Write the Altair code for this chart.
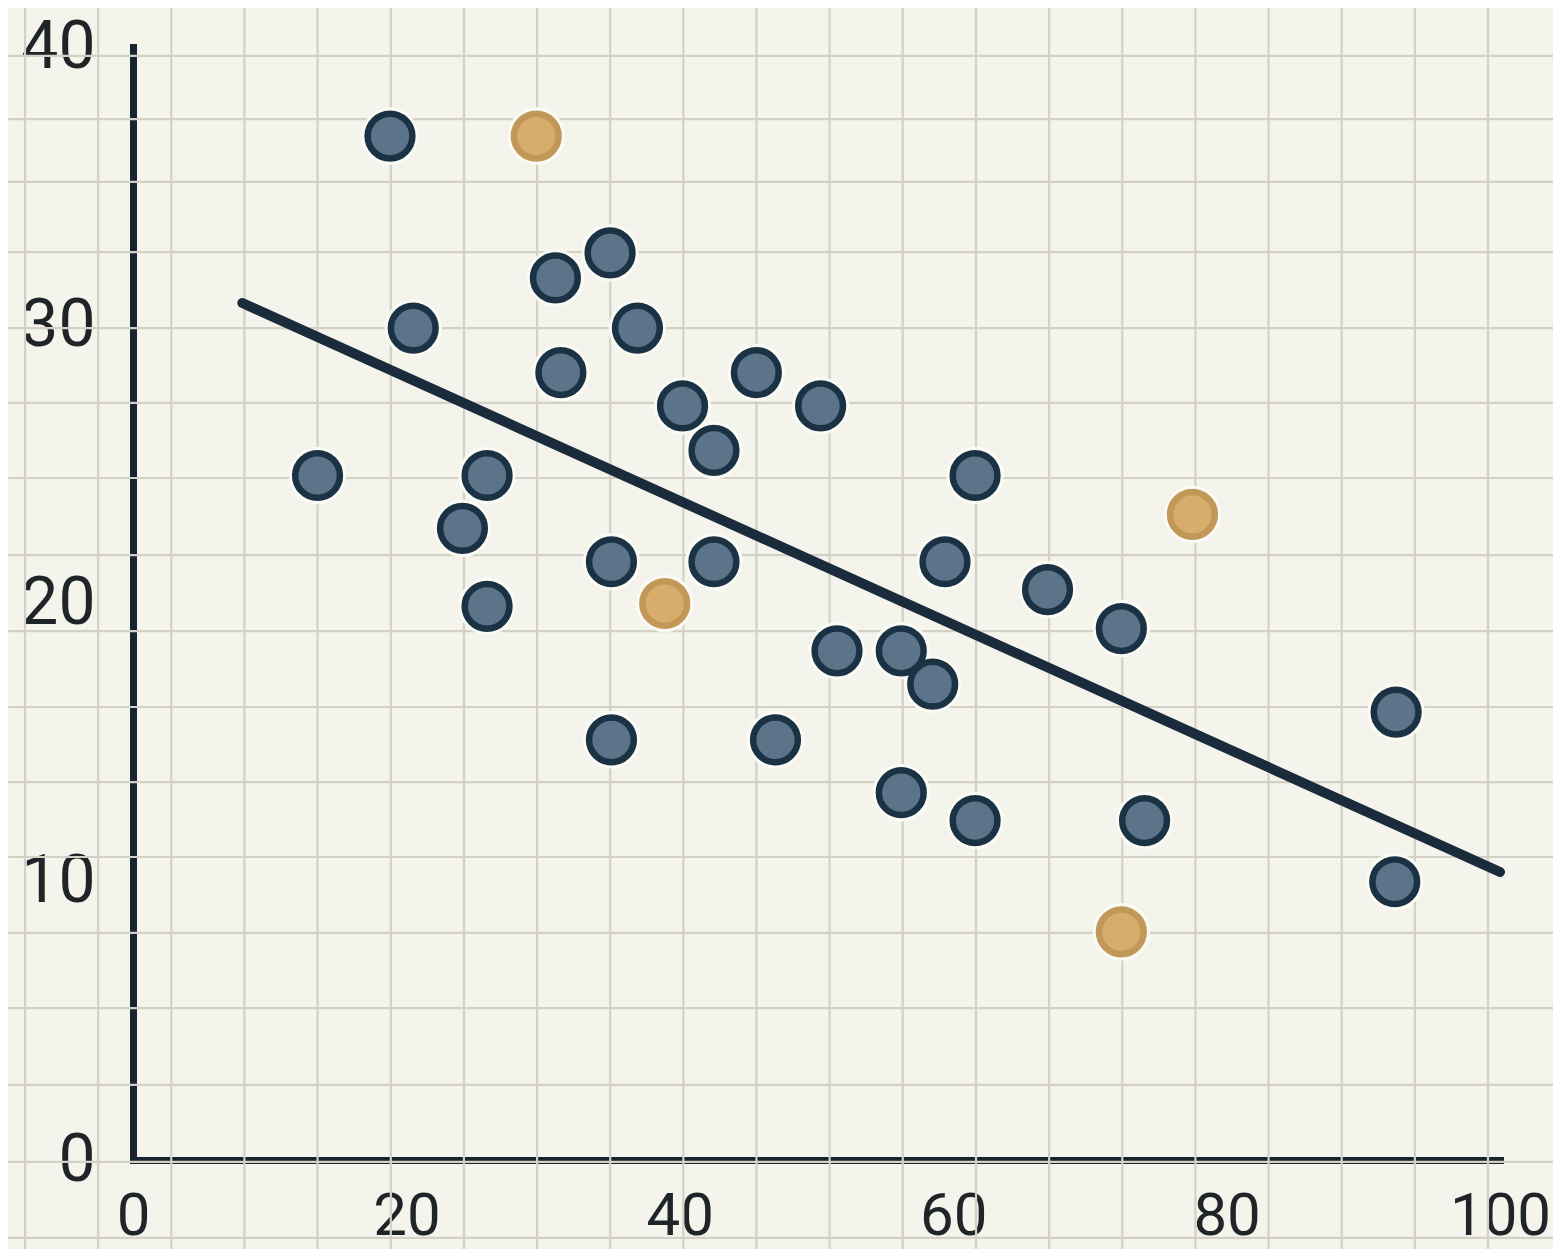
import altair as alt
import pandas as pd

# ---- data ----
blue_x = [18.8, 13.5, 20.5, 30.9, 34.9, 31.3, 36.9, 25.9, 24.1, 25.9,
          35.0, 35.0, 40.2, 42.5, 45.6, 50.3, 42.5, 47.0, 51.5, 56.2,
          58.5, 56.2, 61.6, 59.4, 61.6, 66.9, 72.3, 74.0, 92.4, 92.3]
blue_y = [36.8, 24.6, 29.9, 31.7, 32.6, 28.3, 29.9, 24.6, 22.7, 19.9,
          21.5, 15.1, 27.1, 25.5, 28.3, 27.1, 21.5, 15.1, 18.3, 18.3,
          17.1, 13.2, 24.6, 21.5, 12.2, 20.5, 19.1, 12.2, 16.1, 10.0]
orange_x = [29.5, 38.9, 77.5, 72.3]
orange_y = [36.8, 20.0, 23.2, 8.2]

trend_x = [8.0, 100.0]
trend_y = [30.8, 10.35]

x_ticks = [0, 20, 40, 60, 80, 100]
y_ticks = [0, 10, 20, 30, 40]

# graph-paper background lines (data units)
paper_x = [-7.90, -2.55, 2.80, 8.15, 13.50, 18.86, 24.21, 29.56, 34.91, 40.26,
           45.61, 50.96, 56.31, 61.67, 67.02, 72.37, 77.72, 83.07, 88.42, 93.77,
           99.12, 104.47]
paper_y = [39.68, 37.41, 35.15, 32.63, 29.90, 27.21, 24.51, 21.74, 19.01, 16.28,
           13.58, 10.89, 8.16, 5.46, 2.70, -0.07, -2.80]

# ---- tables ----
points = pd.DataFrame({
    "x": blue_x + orange_x,
    "y": blue_y + orange_y,
    "group": ["main"] * len(blue_x) + ["highlight"] * len(orange_x),
})
trend = pd.DataFrame({"x": trend_x, "y": trend_y})
gx = pd.DataFrame({"gx": paper_x})
gy = pd.DataFrame({"gy": paper_y})

xs = alt.Scale(domain=[0, 100], nice=False, zero=False)
ys = alt.Scale(domain=[0, 40], nice=False, zero=False)

GRID = "#d3d1c6"
INK = "#18252f"

X_AX = alt.Axis(
    values=x_ticks, grid=False, ticks=False, tickSize=0, title=None,
    domain=True, domainColor=INK, domainWidth=7, domainCap="square",
    labelFont="Roboto", labelFontSize=60, labelColor="#1f2428",
    labelPadding=27, labelFlush=False, labelOverlap=False, labelBound=False,
)
Y_AX = alt.Axis(
    values=y_ticks, grid=False, ticks=False, tickSize=0, title=None,
    domain=True, domainColor=INK, domainWidth=7, domainCap="square",
    labelFont="Roboto", labelFontSize=66, labelColor="#1f2428",
    labelPadding=38, labelFlush=False, labelOverlap=False, labelBound=False,
)

vgrid = alt.Chart(gx).mark_rule(color=GRID, strokeWidth=2.2).encode(
    x=alt.X("gx:Q", scale=xs, axis=X_AX),
    y=alt.datum(-3.4, scale=ys, axis=Y_AX),
    y2=alt.datum(41.6),
)
hgrid = alt.Chart(gy).mark_rule(color=GRID, strokeWidth=2.2).encode(
    y=alt.Y("gy:Q", scale=ys, axis=Y_AX),
    x=alt.datum(-9.3, scale=xs, axis=X_AX),
    x2=alt.datum(104.5),
)

line = alt.Chart(trend).mark_line(color="#1a2c3b", strokeWidth=10, strokeCap="round").encode(
    x=alt.X("x:Q", scale=xs, axis=X_AX),
    y=alt.Y("y:Q", scale=ys, axis=Y_AX),
)

halo = alt.Chart(points).mark_point(
    shape="circle", filled=True, size=3300, color="#fbfbf6", opacity=0.95
).encode(
    x=alt.X("x:Q", scale=xs, axis=X_AX),
    y=alt.Y("y:Q", scale=ys, axis=Y_AX),
)

color_scale = alt.Scale(domain=["main", "highlight"], range=["#5b7489", "#d8ac6a"])
stroke_scale = alt.Scale(domain=["main", "highlight"], range=["#1b3245", "#c19858"])

dots = alt.Chart(points).mark_point(
    shape="circle", filled=True, size=2000, strokeWidth=6.5, opacity=1
).encode(
    x=alt.X("x:Q", scale=xs, axis=X_AX),
    y=alt.Y("y:Q", scale=ys, axis=Y_AX),
    fill=alt.Color("group:N", scale=color_scale, legend=None),
    stroke=alt.Color("group:N", scale=stroke_scale, legend=None),
)

chart = alt.layer(vgrid, hgrid, line, halo, dots).properties(
    width=1367,
    height=1113,
    padding={"left": 125, "top": 39, "right": 53, "bottom": 89},
    autosize=alt.AutoSizeParams(type="none"),
    background="#f4f4ec",
).configure_view(stroke=None)

chart.save("out.html", embed_options={"renderer": "svg", "actions": False})
